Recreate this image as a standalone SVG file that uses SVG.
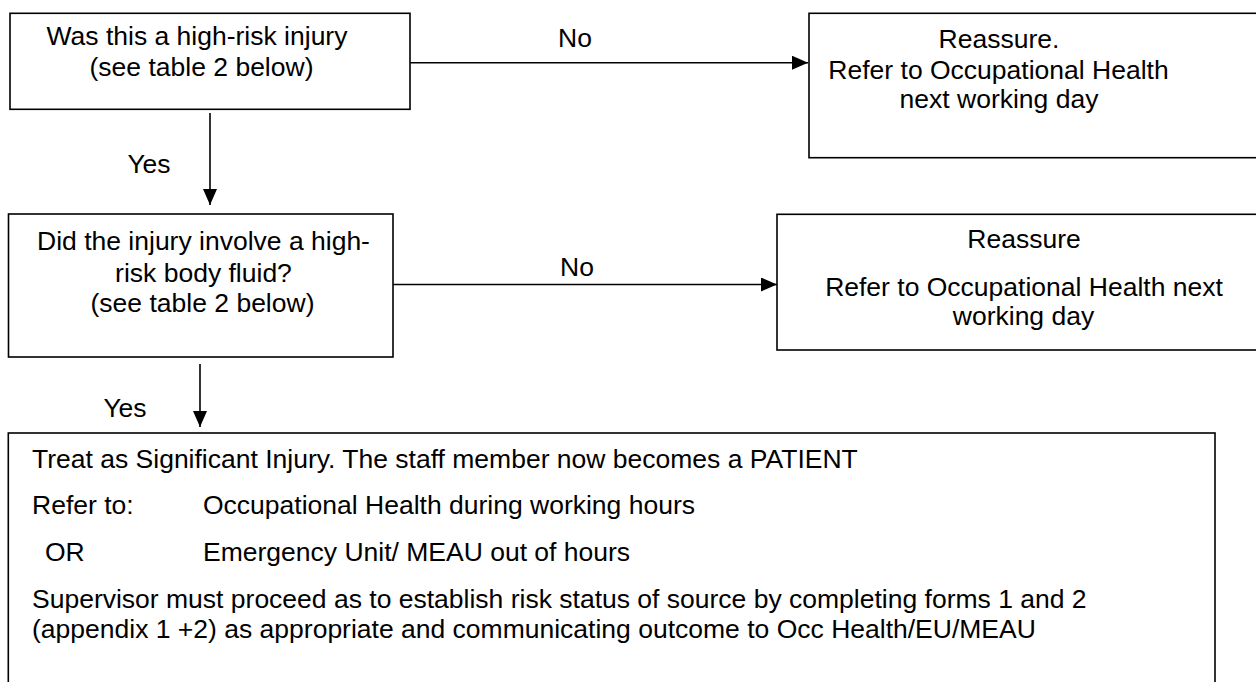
<svg xmlns="http://www.w3.org/2000/svg" width="1256" height="682" viewBox="0 0 1256 682">
<style>
  .box { fill: #ffffff; stroke: #000000; stroke-width: 1.6; }
  .t { font-family: "Liberation Sans", Arial, sans-serif; font-size: 26.5px; fill: #000000; }
  .c { text-anchor: middle; }
  .edge { stroke: #000000; stroke-width: 1.6; fill: none; marker-end: url(#arrow); }
</style>
<defs>
  <marker id="arrow" markerUnits="userSpaceOnUse" markerWidth="16" markerHeight="14" refX="16" refY="7" orient="auto">
    <path d="M0,0 L16,7 L0,14 z" fill="#000000"/>
  </marker>
</defs>
<rect width="1256" height="682" fill="#ffffff"/>

<g id="connectors">
  <line class="edge" x1="410" y1="62.7" x2="808" y2="62.7"/>
  <line class="edge" x1="210" y1="113" x2="210" y2="205"/>
  <line class="edge" x1="393" y1="284.5" x2="777" y2="284.5"/>
  <line class="edge" x1="200" y1="364" x2="200" y2="427"/>
  <text class="t c" x="575" y="47">No</text>
  <text class="t c" x="149" y="173">Yes</text>
  <text class="t c" x="577" y="276">No</text>
  <text class="t c" x="125" y="417">Yes</text>
</g>

<g id="q1">
  <rect class="box" x="10" y="13.3" width="400" height="96"/>
  <text class="t c" x="197" y="45">Was this a high-risk injury</text>
  <text class="t c" x="201.5" y="76">(see table 2 below)</text>
</g>

<g id="reassure1">
  <rect class="box" x="809" y="13.3" width="470" height="144.4"/>
  <text class="t c" x="999" y="48">Reassure.</text>
  <text class="t c" x="998.5" y="79">Refer to Occupational Health</text>
  <text class="t c" x="999" y="108">next working day</text>
</g>

<g id="q2">
  <rect class="box" x="8.5" y="214" width="384.5" height="143"/>
  <text class="t c" x="203.5" y="250">Did the injury involve a high-</text>
  <text class="t c" x="203.5" y="282">risk body fluid?</text>
  <text class="t c" x="202.5" y="312">(see table 2 below)</text>
</g>

<g id="reassure2">
  <rect class="box" x="777" y="214.3" width="500" height="135.7"/>
  <text class="t c" x="1024" y="248">Reassure</text>
  <text class="t c" x="1024" y="296">Refer to Occupational Health next</text>
  <text class="t c" x="1023.5" y="325">working day</text>
</g>

<g id="significant">
  <rect class="box" x="8.3" y="433" width="1206.7" height="270"/>
  <text class="t" x="32" y="468">Treat as Significant Injury. The staff member now becomes a PATIENT</text>
  <text class="t" x="32" y="514">Refer to:</text>
  <text class="t" x="203" y="514">Occupational Health during working hours</text>
  <text class="t" x="45" y="561">OR</text>
  <text class="t" x="203" y="561">Emergency Unit/ MEAU out of hours</text>
  <text class="t" x="32" y="608">Supervisor must proceed as to establish risk status of source by completing forms 1 and 2</text>
  <text class="t" x="32" y="638">(appendix 1 +2) as appropriate and communicating outcome to Occ Health/EU/MEAU</text>
</g>
</svg>
